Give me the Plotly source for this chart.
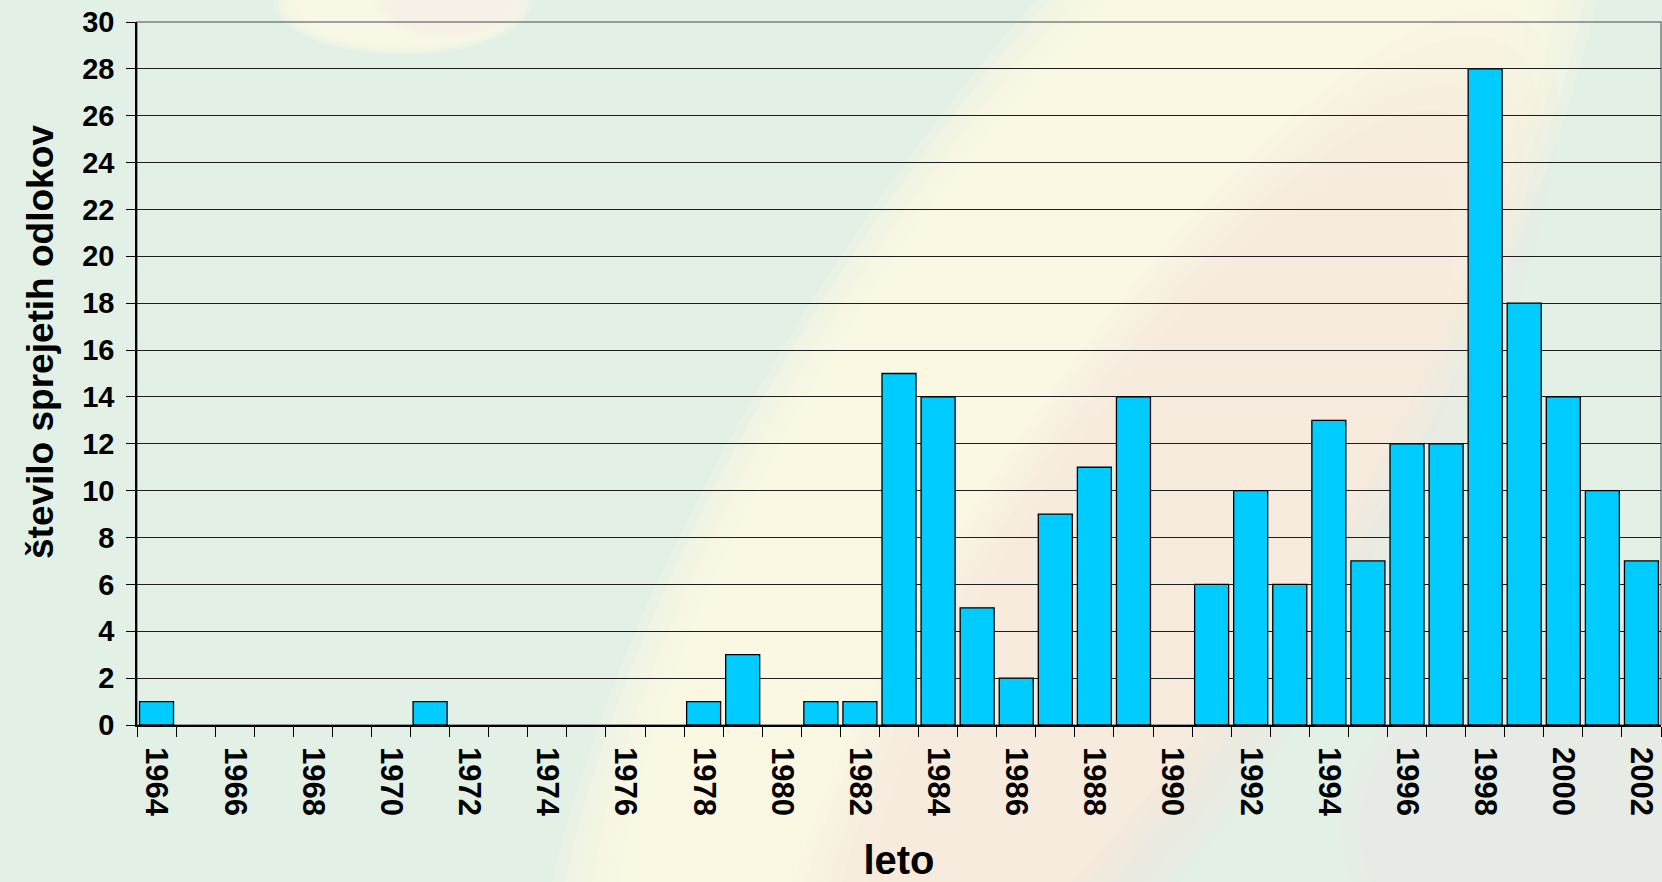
import numpy as np
import plotly.graph_objects as go

# Number of adopted decisions per year
years = [str(y) for y in range(1964, 2003)]
counts = [1, 0, 0, 0, 0, 0, 0, 1, 0, 0, 0, 0, 0, 0, 1, 3, 0, 1, 1, 15,
          14, 5, 2, 9, 11, 14, 0, 6, 10, 6, 13, 7, 12, 12, 28, 18, 14, 10, 7]
tick_labels = [y if int(y) % 2 == 0 else "" for y in years]

W, H = 1662, 882
L, R, T, B = 137, 1661, 22, 725

FONT = "Liberation Sans, Arial, sans-serif"


def px(x, y):
    """Figure pixel -> paper coordinates of the plot area."""
    return (x - L) / (R - L), (B - y) / (B - T)


def ellipse_path(cx, cy, rx, ry, ang, n=72):
    t = np.linspace(0, 2 * np.pi, n, endpoint=False)
    a = np.deg2rad(ang)
    xs = cx + rx * np.cos(t) * np.cos(a) - ry * np.sin(t) * np.sin(a)
    ys = cy + rx * np.cos(t) * np.sin(a) + ry * np.sin(t) * np.cos(a)
    pts = [px(x, y) for x, y in zip(xs, ys)]
    return "M " + " L ".join(f"{u:.4f},{v:.4f}" for u, v in pts) + " Z"


def soft_blob(cx, cy, rx, ry, ang, color, opacity, steps=7, spread=0.2):
    """Stack of shrinking ellipses giving a blurred edge."""
    out = []
    for k in range(steps):
        f = 1 + spread / 2 - spread * k / (steps - 1)
        out.append(dict(type="path", path=ellipse_path(cx, cy, rx * f, ry * f, ang),
                        xref="paper", yref="paper", fillcolor=color,
                        opacity=min(1.0, opacity / steps * 1.8), line=dict(width=0),
                        layer="below"))
    return out


shapes = []
# soft decorative background
shapes += soft_blob(1075, 440, 800, 270, -57, "#FFFCE2", 0.95)
shapes += soft_blob(1160, 580, 580, 170, -57, "#F7E8E1", 0.45, spread=0.3)
shapes += soft_blob(1640, 830, 280, 190, 0, "#EEEDE3", 0.6)
shapes += soft_blob(403, 2, 118, 48, 0, "#FDFBEA", 0.85)
shapes += soft_blob(450, -4, 70, 40, 0, "#F8EEE3", 0.45)
# plot frame (top/right)
shapes.append(dict(type="rect", xref="paper", yref="paper", x0=0, x1=1, y0=0, y1=1,
                   line=dict(color="#808080", width=1.5), layer="below"))

# empty years get no outline so they stay invisible
outline_w = [1.3 if v > 0 else 0 for v in counts]

fig = go.Figure(go.Bar(
    x=years, y=counts,
    marker=dict(color="#00CCFF", line=dict(color="#000000", width=outline_w)),
))

fig.update_layout(
    width=W, height=H,
    margin=dict(l=L, r=W - R, t=T, b=H - B),
    paper_bgcolor="#E3F0E6",
    plot_bgcolor="rgba(0,0,0,0)",
    bargap=0.13,
    showlegend=False,
    shapes=shapes,
    font=dict(family=FONT, color="#000000"),
    xaxis=dict(
        type="category",
        range=[-0.5, len(years) - 0.5],
        tickmode="array", tickvals=years, ticktext=tick_labels,
        tickson="boundaries",
        ticks="outside", ticklen=10, tickwidth=1, tickcolor="#000000",
        tickangle=90,
        tickfont=dict(size=31, family=FONT, weight="bold"),
        ticklabelstandoff=14,
        showline=True, linecolor="#000000", linewidth=1.5,
        showgrid=False,
        title=dict(text="leto", font=dict(size=40, family=FONT, weight="bold"),
                   standoff=36),
    ),
    yaxis=dict(
        range=[0, 30], dtick=2, tick0=0,
        ticks="outside", ticklen=9, tickwidth=1, tickcolor="#000000",
        tickfont=dict(size=29, family=FONT, weight="bold"),
        ticklabelstandoff=6,
        showline=True, linecolor="#000000", linewidth=1.5,
        showgrid=True, gridcolor="#1E1E1E", gridwidth=1,
        zeroline=False,
    ),
    annotations=[dict(
        text="število sprejetih odlokov", textangle=-90,
        xref="paper", yref="paper",
        x=px(40, 342)[0], y=px(40, 342)[1],
        xanchor="center", yanchor="middle", showarrow=False,
        font=dict(size=37, family=FONT, weight="bold", color="#000000"),
    )],
)

fig.write_html("out.html")
